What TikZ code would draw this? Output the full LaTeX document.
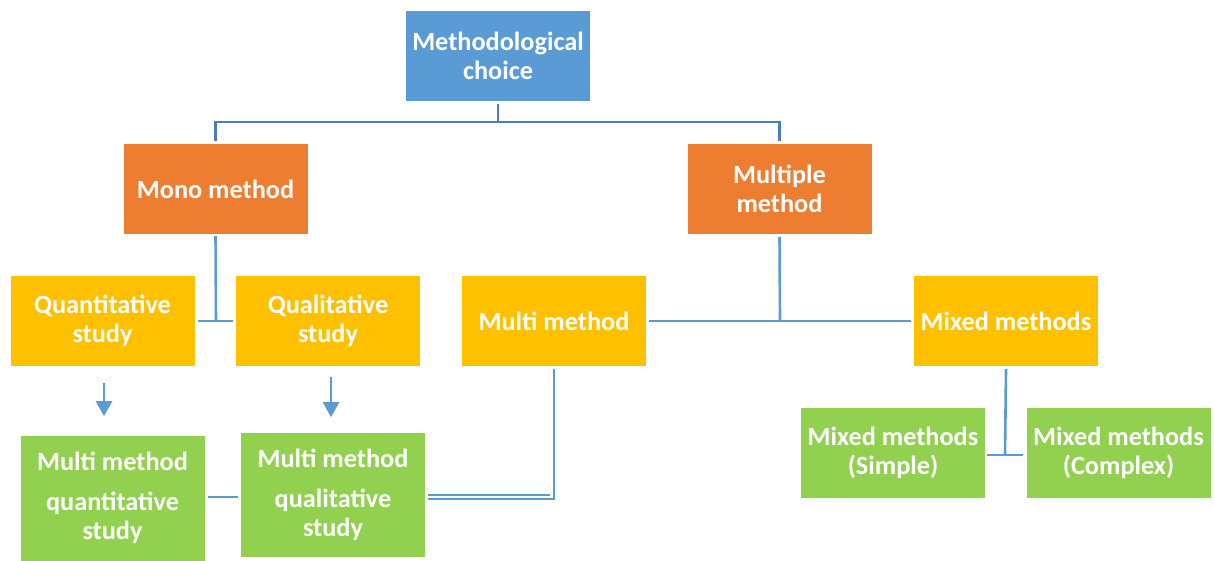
\documentclass[tikz,border=0pt]{standalone}
\usepackage{fontspec}
\setmainfont{Carlito}
\usetikzlibrary{calc,arrows.meta}
\definecolor{cblue}{HTML}{5B9BD5}
\definecolor{cdark}{HTML}{4A7EBB}
\definecolor{corange}{HTML}{ED7D31}
\definecolor{cyellow}{HTML}{FFC000}
\definecolor{cgreen}{HTML}{92D050}
\begin{document}
\begin{tikzpicture}[x=1pt,y=-1pt,
  box/.style={rectangle, inner sep=0pt, text=white, font=\bfseries\fontsize{26.3}{29.5}\selectfont, align=center, minimum width=184pt, minimum height=90pt},
  conn/.style={draw=cblue, line width=2.6pt},
  tconn/.style={draw=cdark, line width=2.6pt},
  arr/.style={draw=cblue, line width=2.6pt, -{Triangle[length=15pt,width=16pt]}}]
\useasboundingbox (0,0) rectangle (1214,561);
\node[box, fill=cblue] (mc) at (498,56) {Methodological\\choice};
\node[box, fill=corange] (mono) at (215.5,189) {Mono method};
\node[box, fill=corange] (mult) at (779.5,189) {Multiple\\method};
\node[box, fill=cyellow] (quan) at (102.5,321) {Quantitative\\study};
\node[box, fill=cyellow] (qual) at (328,321) {Qualitative\\study};
\node[box, fill=cyellow] (mm) at (554,321) {Multi method};
\node[box, fill=cyellow] (mix) at (1006,321) {Mixed methods};
\node[box, fill=cgreen, minimum height=125pt] (mmqn) at (112.5,498) {Multi method\\[10pt]quantitative\\study};
\node[box, fill=cgreen, minimum height=124pt] (mmql) at (333,495) {Multi method\\[10pt]qualitative\\study};
\node[box, fill=cgreen] (mxs) at (893,453) {Mixed methods\\(Simple)};
\node[box, fill=cgreen] (mxc) at (1118.5,453) {Mixed methods\\(Complex)};
% top tree
\coordinate (tj) at (498,122);
\draw[tconn] ([yshift=-3pt]mc.south) -- (tj);
\draw[tconn] ([yshift=3pt]mono.north) |- (tj) -| ([yshift=3pt]mult.north);
% mono
\coordinate (mj) at (216,321);
\draw[conn] ([yshift=-2pt]mono.south) -- (mj);
\draw[conn] ([xshift=3pt]quan.east) -- ([xshift=-3pt]qual.west);
% multiple
\coordinate (pj) at (780,321);
\draw[conn] ([yshift=-3pt]mult.south) -- (pj);
\draw[conn] ([xshift=3pt]mm.east) -- ([xshift=-3pt]mix.west);
% arrows
\draw[arr] ([xshift=1.5pt,yshift=-17pt]quan.south) -- ++(0,33);
\draw[arr] ([xshift=3pt,yshift=-11pt]qual.south) -- ++(0,40);
% green link
\draw[conn] ([xshift=3pt,yshift=1pt]mmqn.east) -- ([xshift=-3pt,yshift=1pt]mmqn.east -| mmql.west);
% multi method to qualitative (double)
\draw[cblue, line width=1.6pt] ([yshift=-3pt]mm.south) |- ([xshift=3pt,yshift=-4pt]mmql.east);
\draw[cblue, line width=1.6pt] ([xshift=3pt]mmql.east) -- ([xshift=-4pt]mmql.east -| mm.south);
% mixed
\coordinate (xj) at (1005,455);
\draw[conn] ([yshift=-3pt]mix.south) -- (xj);
\draw[conn] ([xshift=2pt]mxs.east |- xj) -- ([xshift=-3pt]mxc.west |- xj);
\end{tikzpicture}
\end{document}
